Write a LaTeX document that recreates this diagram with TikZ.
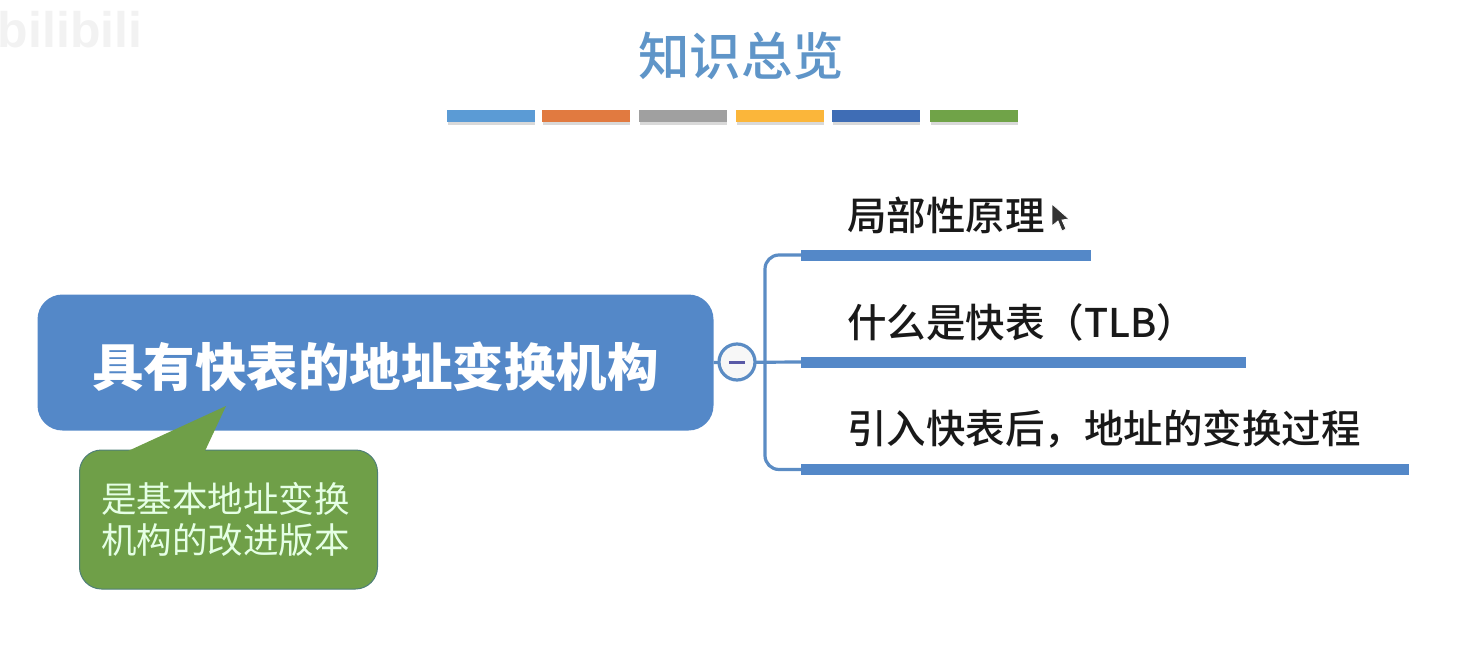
\documentclass[tikz,border=0pt]{standalone}
\usepackage{xcolor}
\usepackage{fontspec}
\usepackage{tikz}
\usetikzlibrary{arrows.meta,positioning,calc}
\setmainfont{Liberation Sans}
\newfontfamily\cjk{Noto Sans CJK SC}
\newfontfamily\cjkmid{Noto Sans CJK SC Medium}
\newfontfamily\cjkbold{Noto Sans CJK SC Black}
\definecolor{mapblue}{HTML}{5488C8}
\definecolor{titleblue}{HTML}{5F95C8}
\definecolor{linkblue}{HTML}{5B8CC4}
\definecolor{notegreen}{HTML}{6F9F48}
\definecolor{notedraw}{HTML}{4F7F78}
\definecolor{barA}{HTML}{5B9BD5}
\definecolor{barB}{HTML}{E17A40}
\definecolor{barC}{HTML}{A0A0A0}
\definecolor{barD}{HTML}{FBB63A}
\definecolor{barE}{HTML}{3F6DB5}
\definecolor{barF}{HTML}{70A348}
\tikzset{
  bar/.style={rectangle, fill=#1, minimum width=88pt, minimum height=11.5pt, inner sep=0pt},
  barshade/.style={rectangle, fill=gray!30, minimum width=87pt, minimum height=5pt, inner sep=0pt},
  topic/.style={anchor=south west, inner sep=0pt, minimum height=12pt, text=black!90,
                font=\fontsize{39.5pt}{44pt}\selectfont\cjkmid},
  under/.style={rectangle, fill=mapblue, inner sep=0pt, minimum height=11pt, anchor=west},
  link/.style={draw=linkblue, line width=3.2pt},
}
\begin{document}
\begin{tikzpicture}[x=1pt, y=-1pt]
    \useasboundingbox (0,0) rectangle (1484,659);
    % watermark
    \node[text=gray!10, font=\fontsize{50pt}{54pt}\selectfont\bfseries, inner sep=0pt] (mark) at (70,30) {bilibili};
    % title and colour bars
    \node[text=titleblue, font=\fontsize{51.5pt}{56pt}\selectfont\cjkmid, inner sep=0pt] (title) at (741,56) {知识总览};
    \foreach \name/\col/\xx in {ba/barA/491, bb/barB/586, bc/barC/683, bd/barD/780, be/barE/876, bf/barF/974} {
      \node[barshade] (\name s) at (\xx,122.5) {};
      \node[bar=\col] (\name) at (\xx,116) {};
    }
    % central topic
    \node[rectangle, rounded corners=25pt, fill=mapblue, minimum width=676pt, minimum height=136pt, inner sep=0pt] (root) at (375.5,362.5) {};
    \node[text=white, inner sep=0pt, font=\fontsize{51.5pt}{56pt}\selectfont\cjkbold] (rootlabel) at (375.5,366.5) {具有快表的地址变换机构};
    % note with its pointer
    \coordinate (tip) at (226,406);
    \node[rectangle, rounded corners=22pt, fill=notegreen, draw=notedraw, line width=1pt, minimum width=298pt, minimum height=139pt,
          inner sep=0pt] (note) at (228.5,519.5) {};
    \node[inner sep=0pt, align=center, text=white!90!green, font=\fontsize{35.5pt}{41pt}\selectfont\cjk] (notelabel) at (225.5,519.5)
      {是基本地址变换\\机构的改进版本};
    \fill[notegreen] ($(note.north west)+(49,1.5)$) -- (tip) -- ($(note.north west)+(126,1.5)$) -- cycle;
    % branches
    \node[under, minimum width=290pt] (ua) at (801,255) {};
    \node[under, minimum width=445pt] (ub) at (801,362) {};
    \node[under, minimum width=608pt] (uc) at (801,469.5) {};
    \draw[link] (root.east) -- (ub.west);
    \node[circle, draw=linkblue, line width=3.2pt, fill=gray!6, minimum size=36pt, inner sep=0pt] (fold) at (737,362) {};
    \node[rectangle, fill=gray!70!blue, minimum width=16pt, minimum height=3pt, inner sep=0pt] (minus) at (fold.center) {};
    \draw[link, rounded corners=14pt] (ua.west) -| (765,362) |- (uc.west);
    \node[topic] (ta) at ($(ua.north west)+(46,-15)$) {局部性原理};
    \node[topic] (tb) at ($(ub.north west)+(46,-15)$) {什么是快表（TLB）};
    \node[topic] (tc) at ($(uc.north west)+(46,-15)$) {引入快表后，地址的变换过程};
    % mouse pointer
    \fill[black!80, draw=white, line width=0.8pt] (1052,204) -- (1052,226) -- (1058,221) -- (1062,231) -- (1066,229) -- (1062,220) -- (1069,219) -- cycle;
\end{tikzpicture}
\end{document}
